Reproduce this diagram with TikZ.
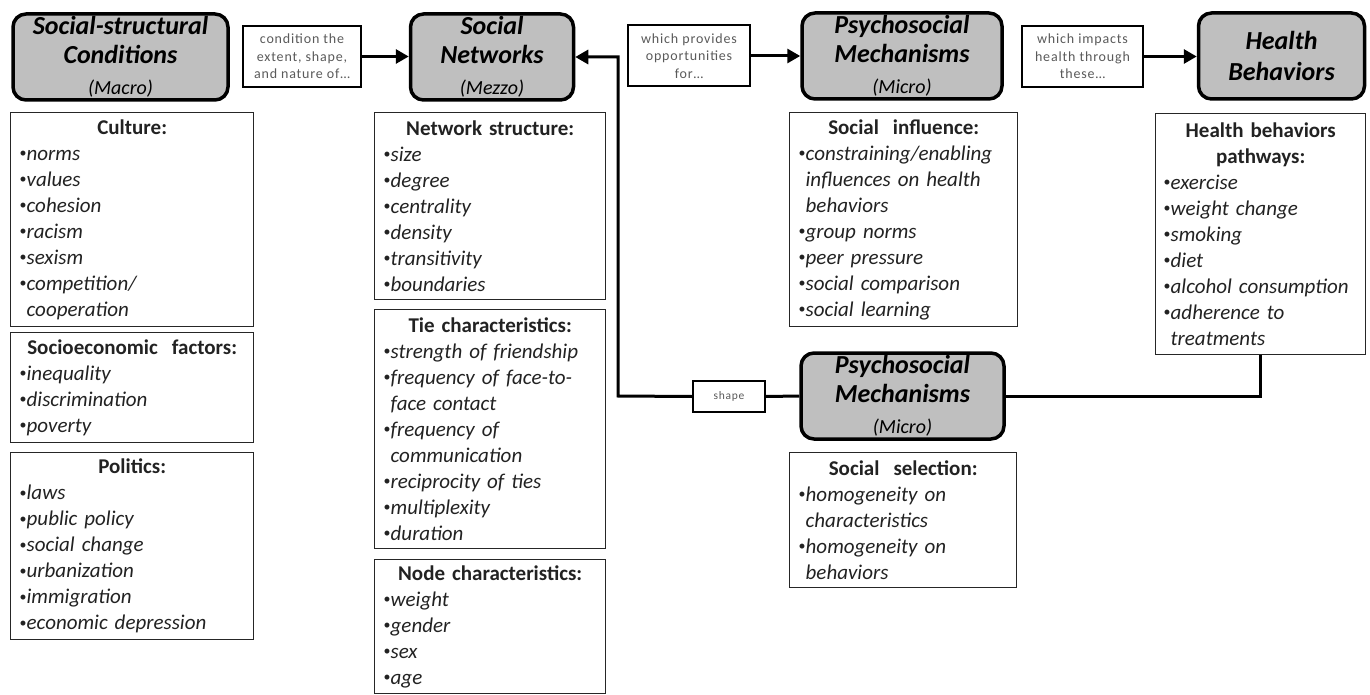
\documentclass[tikz,border=0pt]{standalone}
\usepackage{fontspec}
\setmainfont{Carlito}
\newfontfamily\lblfont[LetterSpace=6]{Carlito}
\usetikzlibrary{arrows.meta}
\definecolor{hdrgray}{HTML}{BFBFBF}
\definecolor{lblgray}{HTML}{5A5A5A}
\definecolor{lsttext}{HTML}{222222}
\newcommand\blt{\raisebox{2.8pt}{\fontsize{14}{14}\selectfont•}}
\newcommand\ttl[1]{{\noindent\centering\bfseries #1\par}}
\newcommand\itm[1]{\noindent\mbox{\blt\textit{#1}}\par}
\newcommand\cnt[1]{\noindent\mbox{\hphantom{\blt}\textit{#1}}\par}
\begin{document}
\begin{tikzpicture}[x=1pt,y=-1pt,
  hdr/.style={draw=black, line width=3.5pt, rounded corners=13pt, fill=hdrgray,
    align=center, inner sep=0pt, minimum height=86,
    font={\bfseries\itshape\fontsize{26}{29}\selectfont}},
  lbl/.style={draw=black, line width=2pt, fill=white, align=center, inner sep=0pt,
    minimum height=61, text=lblgray, font={\lblfont\fontsize{14}{17.5}\selectfont}},
  lst/.style={draw=black!85, line width=1.4pt, anchor=north west, inner xsep=8pt,
    inner ysep=2pt, text=lsttext, font={\fontsize{21}{26}\selectfont}},
  arr/.style={line width=3pt, -{Triangle[length=13pt,width=14pt]}},
  conn/.style={line width=3pt},
]
\path[fill=white, use as bounding box] (0,0) rectangle (1370,695);

% header boxes
\node[hdr, minimum width=215, text width=215] (B1) at (120.5,57)
  {Social-structural\\Conditions\par{\mdseries\fontsize{20}{31}\selectfont (Macro)\par}};
\node[hdr, minimum width=163, text width=163] (B2) at (492,57)
  {Social\\Networks\par{\mdseries\fontsize{20}{31}\selectfont (Mezzo)\par}};
\node[hdr, minimum width=200, text width=200] (B3) at (902,56)
  {Psychosocial\\Mechanisms\par{\mdseries\fontsize{20}{31}\selectfont (Micro)\par}};
\node[hdr, minimum width=166, text width=166, font={\bfseries\itshape\fontsize{26}{31}\selectfont}] (B4) at (1281.5,56)
  {Health\\Behaviors};

% label boxes
\node[lbl, minimum width=118] (L1) at (302,56.5) {condition the\\extent, shape,\\and nature of…};
\node[lbl, minimum width=122] (L2) at (689,56) {which provides\\opportunities\\for…};
\node[lbl, minimum width=121] (L3) at (1082.5,56.5) {which impacts\\health through\\these…};

% list boxes column 1
\node[lst, minimum width=243, minimum height=214, text width=225] (culture) at (10,112)
  {\ttl{Culture:}\itm{norms}\itm{values}\itm{cohesion}\itm{racism}\itm{sexism}\itm{competition/}\cnt{cooperation}};
\node[lst, minimum width=243, minimum height=110, text width=225] (socio) at (10,332)
  {\ttl{Socioeconomic\ \ factors:}\itm{inequality}\itm{discrimination}\itm{poverty}};
\node[lst, minimum width=243, minimum height=187, text width=225] (politics) at (10,452)
  {\ttl{Politics:}\itm{laws}\itm{public policy}\itm{social change}\itm{urbanization}\itm{immigration}\itm{economic depression}};

% list boxes column 2
\node[lst, minimum width=231, minimum height=187, text width=213] (netstruct) at (374,112)
  {\ttl{Network structure:}\itm{size}\itm{degree}\itm{centrality}\itm{density}\itm{transitivity}\itm{boundaries}};
\node[lst, minimum width=231, minimum height=239, text width=213] (tie) at (374,309)
  {\ttl{Tie characteristics:}\itm{strength of friendship}\itm{frequency of face-to-}\cnt{face contact}\itm{frequency of}\cnt{communication}\itm{reciprocity of ties}\itm{multiplexity}\itm{duration}};
\node[lst, minimum width=231, minimum height=134, text width=213] (nodechar) at (374,559)
  {\ttl{Node characteristics:}\itm{weight}\itm{gender}\itm{sex}\itm{age}};

% list boxes column 3
\node[lst, minimum width=228, minimum height=214, text width=210] (influence) at (789,112)
  {\ttl{Social\ \ influence:}\itm{constraining/enabling}\cnt{influences on health}\cnt{behaviors}\itm{group norms}\itm{peer pressure}\itm{social comparison}\itm{social learning}};
\node[lst, minimum width=227, minimum height=135, text width=209] (selection) at (789,452)
  {\ttl{Social\ \ selection:}\itm{homogeneity on}\cnt{characteristics}\itm{homogeneity on}\cnt{behaviors}};

% list box column 4
\node[lst, minimum width=210, minimum height=241, text width=194] (pathways) at (1155,113)
  {\ttl{Health behaviors\\pathways:}\itm{exercise}\itm{weight change}\itm{smoking}\itm{diet}\itm{alcohol consumption}\itm{adherence to}\cnt{treatments}};

% lower psychosocial box and shape label
\node[hdr, minimum width=203, text width=203] (LB) at (902.5,396)
  {Psychosocial\\Mechanisms\par{\mdseries\fontsize{20}{31}\selectfont (Micro)\par}};
\node[lbl, minimum width=72, minimum height=31, font={\lblfont\fontsize{11.5}{14}\selectfont}] (shape) at (729,396.5) {shape};

% connectors
\draw[arr] (L1.east) -- (L1.east -| B2.west);
\draw[arr] (L2.east) -- (L2.east -| B3.west);
\draw[arr] (L3.east) -- (L3.east -| B4.west);
\coordinate (turn) at (618,396);
\draw[conn] (LB.west) -- (shape.east);
\draw[arr] (shape.west) -- (turn) |- (B2.east);
\draw[conn] (LB.east) -| (pathways.south);
\end{tikzpicture}
\end{document}
